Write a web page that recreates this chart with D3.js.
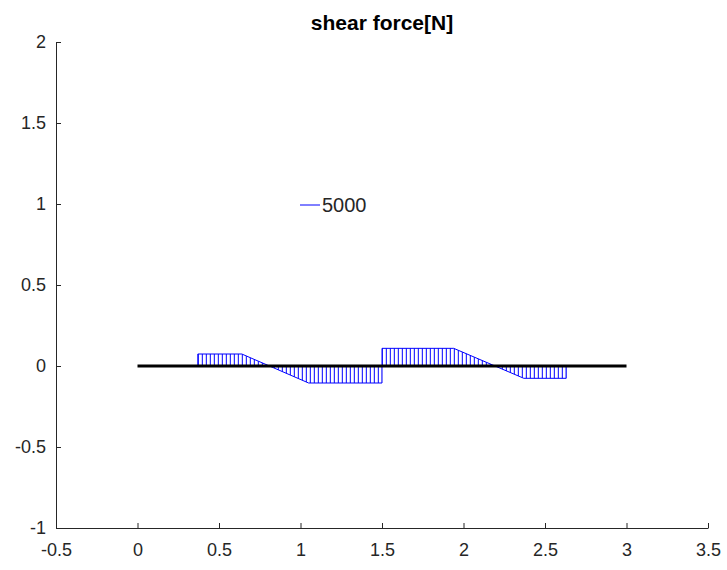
<!DOCTYPE html>
<html>
<head>
<meta charset="utf-8">
<script src="https://cdn.jsdelivr.net/npm/d3@7"></script>
<style>
  html, body { margin: 0; padding: 0; background: #fff; }
  svg { display: block; }
  text { font-family: "Liberation Sans", Arial, Helvetica, sans-serif; }
</style>
</head>
<body>
<svg id="chart" width="727" height="570"></svg>
<script>
// ---- data ----
const xTicks = [-0.5, 0, 0.5, 1, 1.5, 2, 2.5, 3, 3.5];
const xTickLabels = ["-0.5", "0", "0.5", "1", "1.5", "2", "2.5", "3", "3.5"];
const yTicks = [-1, -0.5, 0, 0.5, 1, 1.5, 2];
const yTickLabels = ["-1", "-0.5", "0", "0.5", "1", "1.5", "2"];
const beamX = [0, 3];
const beamY = [0, 0];
const shearX = [0.37, 0.37, 0.64, 1.05, 1.5, 1.5, 1.94, 2.37, 2.63, 2.63];
const shearV = [0, 0.074, 0.074, -0.105, -0.105, 0.109, 0.109, -0.076, -0.076, 0];
const legendLabel = "5000";
const titleText = "shear force[N]";

// ---- layout ----
const svg = d3.select("#chart");
const x = d3.scaleLinear().domain([-0.5, 3.5]).range([56, 708]);
const y = d3.scaleLinear().domain([-1, 2]).range([528, 42]);
const axisColor = "#262626";

// hatch pattern
const defs = svg.append("defs");
const pat = defs.append("pattern")
  .attr("id", "hatch")
  .attr("patternUnits", "userSpaceOnUse")
  .attr("x", x(shearX[0]))
  .attr("width", 4).attr("height", 10);
pat.append("line")
  .attr("x1", 0.5).attr("x2", 0.5).attr("y1", 0).attr("y2", 10)
  .attr("stroke", "#0000ff").attr("stroke-width", 1);

const pts = shearX.map((d, i) => [d, shearV[i]]);
const line = d3.line().x(d => x(d[0])).y(d => y(d[1]));

svg.append("path")
  .attr("d", line(pts) + "Z")
  .attr("fill", "url(#hatch)")
  .attr("stroke", "#0000ff")
  .attr("stroke-width", 1);

// beam
svg.append("path")
  .attr("d", line(beamX.map((d, i) => [d, beamY[i]])))
  .attr("stroke", "#000")
  .attr("stroke-width", 3)
  .attr("fill", "none");

// axes
const xAxis = d3.axisBottom(x)
  .tickValues(xTicks)
  .tickFormat((d, i) => xTickLabels[i])
  .tickSizeInner(-5).tickSizeOuter(0).tickPadding(15);
const gx = svg.append("g").attr("transform", `translate(0,${y(-1)})`).call(xAxis);

const yAxis = d3.axisLeft(y)
  .tickValues(yTicks)
  .tickFormat((d, i) => yTickLabels[i])
  .tickSizeInner(-5).tickSizeOuter(0).tickPadding(10);
const gy = svg.append("g").attr("transform", `translate(${x(-0.5)},0)`).call(yAxis);

[gx, gy].forEach(g => {
  g.select(".domain").attr("stroke", axisColor);
  g.selectAll(".tick line").attr("stroke", axisColor);
  g.selectAll(".tick text")
    .attr("fill", axisColor)
    .style("font-family", '"Liberation Sans", Arial, sans-serif')
    .style("font-size", "18px");
});

// title
svg.append("text")
  .attr("x", (x(-0.5) + x(3.5)) / 2)
  .attr("y", 30)
  .attr("text-anchor", "middle")
  .attr("font-weight", "bold")
  .attr("font-size", "21px")
  .attr("fill", "#000")
  .text(titleText);

// legend
const lg = svg.append("g").attr("transform", "translate(300,205)");
lg.append("line").attr("x1", 0).attr("x2", 20).attr("y1", 0).attr("y2", 0)
  .attr("stroke", "#0000ff").attr("stroke-width", 1);
lg.append("text").attr("x", 22).attr("y", 0).attr("dy", "0.35em")
  .attr("font-size", "20px").attr("fill", axisColor).text(legendLabel);
</script>
</body>
</html>
